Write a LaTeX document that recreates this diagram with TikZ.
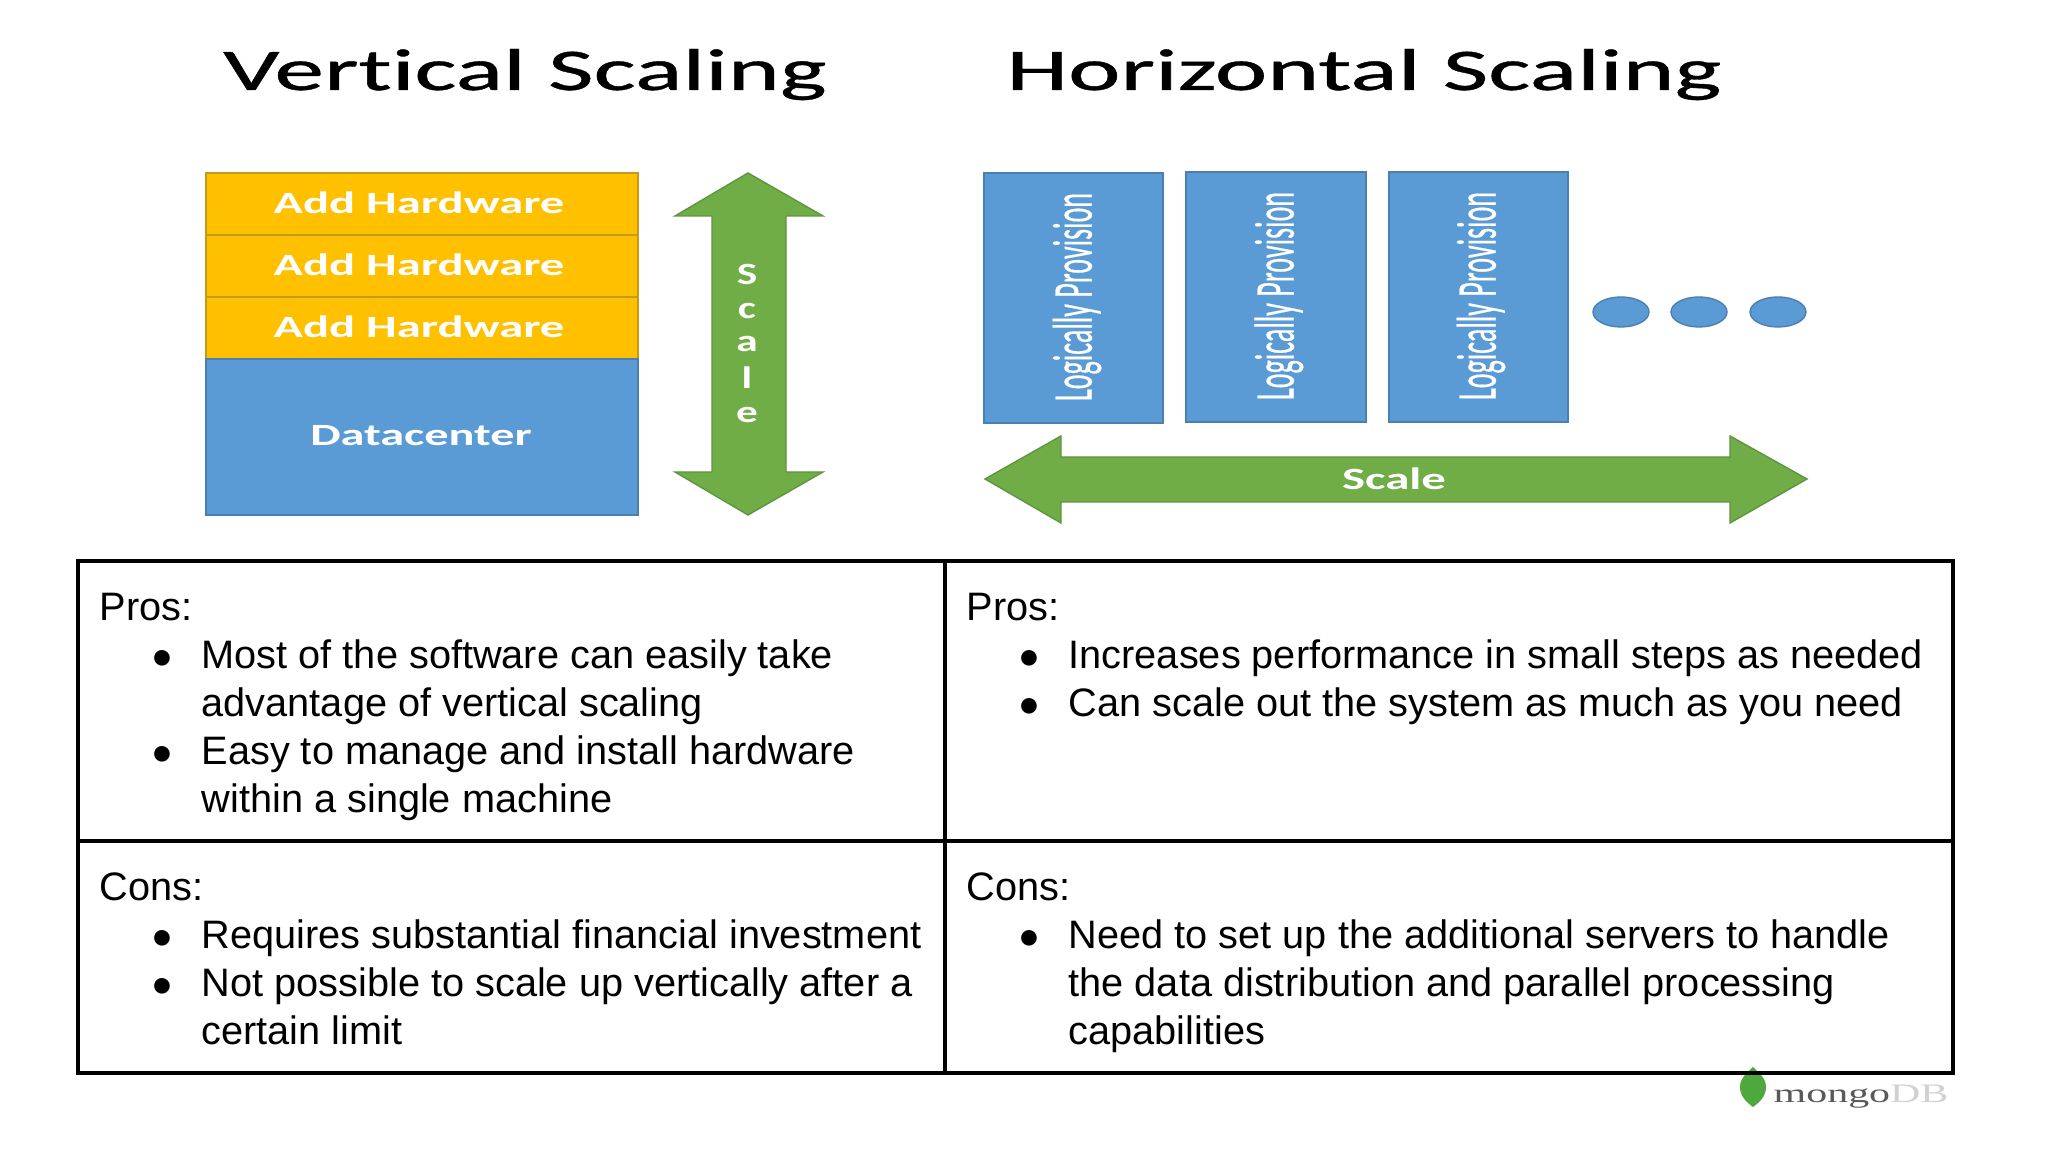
\documentclass[tikz,border=0pt]{standalone}
\usepackage{fontspec}
\setmainfont{Liberation Sans}
\newfontfamily\carlito[Ligatures=NoCommon]{Carlito}
\newfontfamily\titlefont[Ligatures=NoCommon,FakeBold=0.6]{Carlito}
\newfontfamily\vertfont[FakeBold=0.5]{Carlito}
\newfontfamily\serifmark{Liberation Serif}
\definecolor{amber}{HTML}{FFC000}
\definecolor{amberedge}{HTML}{C49A1A}
\definecolor{steel}{HTML}{5B9BD5}
\definecolor{steeledge}{HTML}{4A7FB0}
\definecolor{leafgreen}{HTML}{70AD47}
\definecolor{leafedge}{HTML}{5F9440}
\definecolor{mongoleaf}{HTML}{4FA83D}
\tikzstyle{title} = [anchor=base,inner sep=0mm,font=\titlefont\fontsize{16.8}{20}\selectfont]
\tikzstyle{onbox} = [white,inner sep=0mm,font=\carlito\bfseries\fontsize{8.8}{10}\selectfont]
\tikzstyle{vert} = [white,inner sep=0mm,rotate=90,font=\vertfont\fontsize{16}{18}\selectfont]
\tikzstyle{line} = [anchor=base west,inner sep=0mm,font=\fontsize{11.3}{13}\selectfont]
\tikzstyle{dot} = [anchor=base,inner sep=0mm,font=\fontsize{10.3}{12}\selectfont]
\tikzstyle{rule} = [line width=1.1pt]

\begin{document}
\begin{tikzpicture}[scale=1]
\useasboundingbox (0,0) rectangle (20.48,11.52);

% titles
\draw(5.25,10.62) node[title] (vtitle) {\scalebox{1.68}[1]{Vertical Scaling}};
\draw(13.64,10.62) node[title] (htitle) {\scalebox{1.68}[1]{Horizontal Scaling}};

% vertical stack
\draw[fill=amber,draw=amberedge,line width=0.3pt] (2.06,9.17) rectangle (6.38,9.79);
\draw[fill=amber,draw=amberedge,line width=0.3pt] (2.06,8.55) rectangle (6.38,9.17);
\draw[fill=amber,draw=amberedge,line width=0.3pt] (2.06,7.93) rectangle (6.38,8.55);
\draw[fill=steel,draw=steeledge,line width=0.4pt] (2.06,6.37) rectangle (6.38,7.93);
\draw(4.19,9.49) node[onbox] (hw1) {\scalebox{1.57}[1]{Add Hardware}};
\draw(4.19,8.87) node[onbox] (hw2) {\scalebox{1.57}[1]{Add Hardware}};
\draw(4.19,8.25) node[onbox] (hw3) {\scalebox{1.57}[1]{Add Hardware}};
\draw(4.21,7.16) node[onbox] (dc) {\scalebox{1.56}[1]{Datacenter}};

% vertical arrow
\draw[fill=leafgreen,draw=leafedge,line width=0.4pt] (7.48,9.79) -- (8.23,9.36) -- (7.86,9.36) -- (7.86,6.80) -- (8.23,6.80)
  -- (7.48,6.37) -- (6.75,6.80) -- (7.12,6.80) -- (7.12,9.36) -- (6.75,9.36) -- cycle;
\draw(7.47,8.78) node[onbox] (s1) {\scalebox{1.4}[1]{S}};
\draw(7.47,8.41) node[onbox] (s2) {\scalebox{1.4}[1]{c}};
\draw(7.47,8.08) node[onbox] (s3) {\scalebox{1.4}[1]{a}};
\draw(7.47,7.74) node[onbox] (s4) {\scalebox{1.4}[1]{l}};
\draw(7.47,7.37) node[onbox] (s5) {\scalebox{1.4}[1]{e}};

% provision boxes
\draw[fill=steel,draw=steeledge,line width=0.4pt] (9.84,7.29) rectangle (11.63,9.79);
\draw[fill=steel,draw=steeledge,line width=0.4pt] (11.86,7.30) rectangle (13.66,9.80);
\draw[fill=steel,draw=steeledge,line width=0.4pt] (13.89,7.30) rectangle (15.68,9.80);
\draw(10.77,8.55) node[vert] (lp1) {\scalebox{0.5}[1]{Logically Provision}};
\draw(12.79,8.56) node[vert] (lp2) {\scalebox{0.5}[1]{Logically Provision}};
\draw(14.81,8.56) node[vert] (lp3) {\scalebox{0.5}[1]{Logically Provision}};
\draw[fill=steel,draw=steeledge,line width=0.4pt] (16.21,8.40) ellipse (0.28 and 0.15);
\draw[fill=steel,draw=steeledge,line width=0.4pt] (16.99,8.40) ellipse (0.28 and 0.15);
\draw[fill=steel,draw=steeledge,line width=0.4pt] (17.78,8.40) ellipse (0.28 and 0.15);

% horizontal arrow
\draw[fill=leafgreen,draw=leafedge,line width=0.4pt] (9.85,6.73) -- (10.61,7.16) -- (10.61,6.95) -- (17.30,6.95) -- (17.30,7.16)
  -- (18.07,6.73) -- (17.30,6.29) -- (17.30,6.50) -- (10.61,6.50) -- (10.61,6.29) -- cycle;
\draw(13.94,6.73) node[onbox] (hs) {\scalebox{1.58}[1]{Scale}};

% logo
\draw[fill=mongoleaf,draw=none] (17.53,0.45) .. controls (17.60,0.50) and (17.66,0.56) .. (17.66,0.65)
  .. controls (17.66,0.74) and (17.59,0.79) .. (17.53,0.85)
  .. controls (17.47,0.79) and (17.40,0.74) .. (17.40,0.65)
  .. controls (17.40,0.56) and (17.46,0.50) .. (17.53,0.45);
\draw(17.73,0.49) node[anchor=base west,inner sep=0mm,font=\serifmark\fontsize{7.6}{9}\selectfont] (mongo) {\scalebox{1.57}[1]{\textcolor{black!65}{mongo}\textcolor{black!18}{DB}}};

% table
\draw[rule] (0.78,0.79) rectangle (19.53,5.91);
\draw[rule] (9.45,0.79) -- (9.45,5.91);
\draw[rule] (0.78,3.11) -- (19.53,3.11);

% top left
\draw(0.99,5.31) node[line] (a0) {Pros:};
\draw(1.62,4.83) node[dot] (a1b) {●};
\draw(2.01,4.83) node[line] (a1) {Most of the software can easily take};
\draw(2.01,4.35) node[line] (a2) {advantage of vertical scaling};
\draw(1.62,3.87) node[dot] (a3b) {●};
\draw(2.01,3.87) node[line] (a3) {Easy to manage and install hardware};
\draw(2.01,3.39) node[line] (a4) {within a single machine};

% top right
\draw(9.66,5.31) node[line] (b0) {Pros:};
\draw(10.29,4.83) node[dot] (b1b) {●};
\draw(10.68,4.83) node[line] (b1) {Increases performance in small steps as needed};
\draw(10.29,4.35) node[dot] (b2b) {●};
\draw(10.68,4.35) node[line] (b2) {Can scale out the system as much as you need};

% bottom left
\draw(0.99,2.51) node[line] (c0) {Cons:};
\draw(1.62,2.03) node[dot] (c1b) {●};
\draw(2.01,2.03) node[line] (c1) {Requires substantial financial investment};
\draw(1.62,1.55) node[dot] (c2b) {●};
\draw(2.01,1.55) node[line] (c2) {Not possible to scale up vertically after a};
\draw(2.01,1.07) node[line] (c3) {certain limit};

% bottom right
\draw(9.66,2.51) node[line] (d0) {Cons:};
\draw(10.29,2.03) node[dot] (d1b) {●};
\draw(10.68,2.03) node[line] (d1) {Need to set up the additional servers to handle};
\draw(10.68,1.55) node[line] (d2) {the data distribution and parallel processing};
\draw(10.68,1.07) node[line] (d3) {capabilities};

\end{tikzpicture}
\end{document}
